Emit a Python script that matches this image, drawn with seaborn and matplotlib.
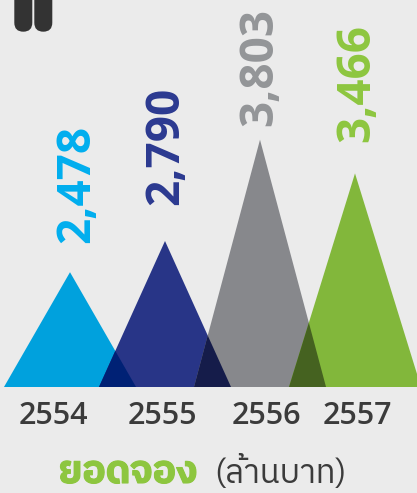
import matplotlib
matplotlib.use("Agg")
import matplotlib.pyplot as plt
import matplotlib.patheffects as pe
from matplotlib import font_manager
from matplotlib.ft2font import FT2Font
from matplotlib.patches import Polygon, FancyBboxPatch
from matplotlib.transforms import IdentityTransform, ScaledTranslation
import seaborn as sns

# ---- data -------------------------------------------------------------
years = ["2554", "2555", "2556", "2557"]
bookings = [2478, 2790, 3803, 3466]          # million baht
value_labels = ["2,478", "2,790", "3,803", "3,466"]
title_main = "ยอดจอง"
title_unit = "(ล้านบาท)"

# ---- style / layout ---------------------------------------------------
fill_colors = ["#00a1dd", "#283587", "#87888c", "#82b73b"]
label_colors = ["#00aeef", "#2b3990", "#939598", "#8dc63f"]
label_gap_px = [29, 36, 14, 31]
label_shift_px = [7, 1, 0, 2]
year_shift_px = [-17, -3, 6, 2]
BG = "#ebebeb"
INK = "#3b3b3b"
W, H = 417, 493
BASE_PX = 387          # baseline of the triangles, from the top
Y0, Y1 = 1330, 5200    # value range spanned by the plot area
HALF_W = 0.695         # half base width of a triangle, in category units


def thai_family():
    """Pick an installed family that has Thai glyphs; report bold support."""
    found = {}
    for fe in font_manager.fontManager.ttflist:
        try:
            cmap = FT2Font(fe.fname).get_charmap()
        except Exception:
            continue
        if 0x0E22 in cmap and 0x0E2D in cmap and 0x0E17 in cmap:
            w = fe.weight if isinstance(fe.weight, int) else 400
            found.setdefault(fe.name, set()).add(w)
    if not found:
        return "DejaVu Sans", False

    def rank(n):
        score = 0
        if "Thai" in n:
            score -= 4
        if "Sans" in n:
            score -= 2
        if "Looped" in n:
            score += 3
        if "UI" in n:
            score += 1
        return score
    name = sorted(found, key=rank)[0]
    return name, max(found[name]) >= 600


THAI, THAI_HAS_BOLD = thai_family()

sns.set_theme(style="white", rc={"figure.facecolor": BG, "axes.facecolor": BG,
                                 "savefig.facecolor": BG})
plt.rcParams["font.family"] = ["Open Sans", "DejaVu Sans"]

fig = plt.figure(figsize=(W / 100, H / 100), dpi=100)
ax = fig.add_axes([0, (H - BASE_PX) / H, 1, BASE_PX / H])
ax.set_xlim(-70 / 95, (W - 70) / 95)
ax.set_ylim(Y0, Y1)

# triangles, one per year
palette = sns.color_palette(fill_colors)
tris = []
for i, (v, c) in enumerate(zip(bookings, palette)):
    tri = Polygon([[i - HALF_W, Y0], [i, v], [i + HALF_W, Y0]], closed=True,
                  facecolor=c, edgecolor="none", zorder=2)
    ax.add_patch(tri)
    tris.append(tri)

# overlapping areas are shaded like a multiply blend of both colours
for i in range(len(tris) - 1):
    a, b = palette[i], palette[i + 1]
    mix = tuple(x * y for x, y in zip(a, b))
    over = Polygon(tris[i + 1].get_xy(), closed=True, facecolor=mix,
                   edgecolor="none", zorder=3)
    ax.add_patch(over)
    over.set_clip_path(tris[i])

# value labels above each peak
for i, (v, lab, col, gap, dx) in enumerate(zip(bookings, value_labels,
                                               label_colors, label_gap_px,
                                               label_shift_px)):
    ax.annotate(lab, xy=(i, v), xytext=(dx, gap), textcoords="offset pixels",
                rotation=90, ha="center", va="bottom", color=col,
                fontsize=33, fontweight="bold", zorder=4)

ax.set_xticks(range(len(years)), years)
ax.set_yticks([])
ax.tick_params(axis="x", length=0, pad=10, labelsize=22, labelcolor=INK)
for t, dx in zip(ax.get_xticklabels(), year_shift_px):
    t.set_fontweight("semibold")
    t.set_transform(t.get_transform() +
                    ScaledTranslation(dx / 100, 0, fig.dpi_scale_trans))
sns.despine(ax=ax, left=True, bottom=True)
ax.grid(False)

# quotation mark ornament, top left
for x0 in (14.3, 34.3):
    fig.patches.append(FancyBboxPatch((x0, H - 31.7), 18, 60,
                                      boxstyle="round,pad=0,rounding_size=9",
                                      facecolor="#333333", edgecolor="none",
                                      transform=IdentityTransform(), zorder=5))

# title below the chart
renderer = fig.canvas.get_renderer()
green = "#8dc63f"
t1 = fig.text(198 / W, 10 / H, title_main, ha="right", va="baseline",
              color=green, fontsize=30, fontweight="bold",
              family=[THAI, "DejaVu Sans"])
if not THAI_HAS_BOLD:
    t1.set_path_effects([pe.withStroke(linewidth=2.2, foreground=green)])
else:
    t1.set_path_effects([pe.withStroke(linewidth=0.8, foreground=green)])
t2 = fig.text(214 / W, 10 / H, title_unit, ha="left", va="baseline",
              color=INK, fontsize=23, family=[THAI, "DejaVu Sans"])
for t, target in ((t1, 138), (t2, 132)):
    w = t.get_window_extent(renderer).width
    if w > 0:
        t.set_fontsize(t.get_fontsize() * target / w)

fig.savefig("out.png", dpi=100)
